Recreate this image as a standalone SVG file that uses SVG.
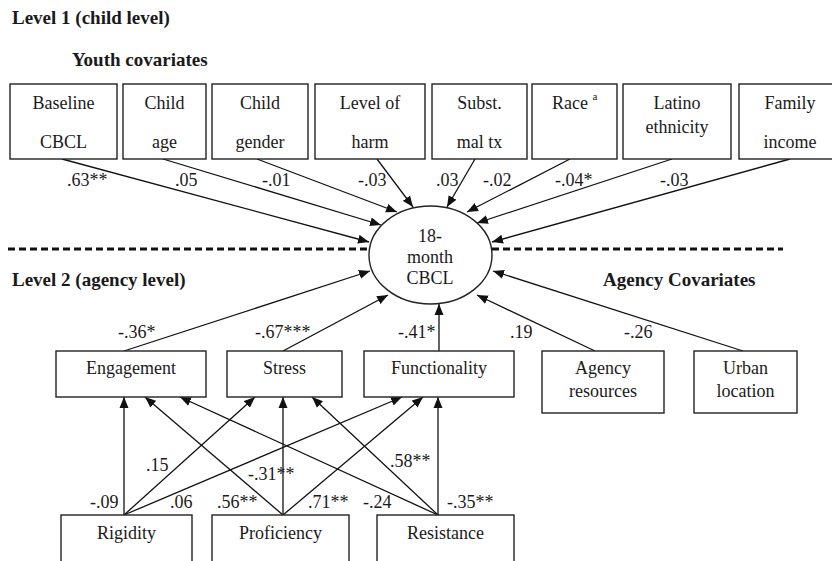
<svg xmlns="http://www.w3.org/2000/svg" width="832" height="561" viewBox="0 0 832 561">
<defs>
<marker id="ah" markerUnits="userSpaceOnUse" markerWidth="12" markerHeight="10" refX="11" refY="5" orient="auto">
<path d="M0,0.5 L11,5 L0,9.5 Z" fill="#111"/>
</marker>
<style>
text{font-family:"Liberation Serif","Times New Roman",serif;fill:#1a1a1a;font-size:18px}
.h{font-weight:bold;font-size:19px}
.c{text-anchor:middle}
.box{fill:#fff;stroke:#222;stroke-width:1.4}
.ln{stroke:#111;stroke-width:1.3;fill:none;marker-end:url(#ah)}
.dash{stroke:#111;stroke-width:3;stroke-dasharray:7 4;fill:none}
.sup{font-size:11px}
</style>
</defs>
<rect width="832" height="561" fill="#fff"/>

<text class="h" x="12" y="24">Level 1 (child level)</text>
<text class="h" x="72" y="66">Youth covariates</text>
<text class="h" x="12" y="286">Level 2 (agency level)</text>
<text class="h" x="603" y="286">Agency Covariates</text>

<line class="dash" x1="8" y1="249" x2="369" y2="249"/>
<line class="dash" x1="492" y1="249" x2="783" y2="249"/>

<g id="connectors">
<line class="ln" x1="62" y1="159" x2="369" y2="242"/>
<line class="ln" x1="163" y1="159" x2="381" y2="225"/>
<line class="ln" x1="257" y1="159" x2="397" y2="212"/>
<line class="ln" x1="377" y1="159" x2="413" y2="207"/>
<line class="ln" x1="475" y1="159" x2="447" y2="207"/>
<line class="ln" x1="570" y1="159" x2="467" y2="212"/>
<line class="ln" x1="672" y1="159" x2="477" y2="223"/>
<line class="ln" x1="790" y1="159" x2="492" y2="242"/>

<line class="ln" x1="124" y1="351" x2="370" y2="271"/>
<line class="ln" x1="283" y1="351" x2="388" y2="295"/>
<line class="ln" x1="439" y1="351" x2="439" y2="304"/>
<line class="ln" x1="595" y1="351" x2="477" y2="295"/>
<line class="ln" x1="743" y1="351" x2="493" y2="271"/>

<line class="ln" x1="124" y1="515" x2="124" y2="397"/>
<line class="ln" x1="124" y1="515" x2="255" y2="397"/>
<line class="ln" x1="124" y1="515" x2="402" y2="397"/>
<line class="ln" x1="283" y1="515" x2="145" y2="397"/>
<line class="ln" x1="283" y1="515" x2="283" y2="397"/>
<line class="ln" x1="283" y1="515" x2="423" y2="397"/>
<line class="ln" x1="438" y1="515" x2="180" y2="397"/>
<line class="ln" x1="438" y1="515" x2="312" y2="397"/>
<line class="ln" x1="438" y1="515" x2="438" y2="397"/>

<text x="67" y="186">.63**</text>
<text x="175" y="186">.05</text>
<text x="262" y="186">-.01</text>
<text x="358" y="186">-.03</text>
<text x="436" y="186">.03</text>
<text x="483" y="186">-.02</text>
<text x="555" y="186">-.04*</text>
<text x="660" y="186">-.03</text>

<text x="118" y="338">-.36*</text>
<text x="255" y="338">-.67***</text>
<text x="398" y="338">-.41*</text>
<text x="510" y="338">.19</text>
<text x="624" y="338">-.26</text>

<text x="90" y="508">-.09</text>
<text x="170" y="508">.06</text>
<text x="217" y="508">.56**</text>
<text x="308" y="508">.71**</text>
<text x="363" y="508">-.24</text>
<text x="447" y="508">-.35**</text>
<text x="146" y="471">.15</text>
<text x="248" y="480">-.31**</text>
<text x="390" y="467">.58**</text>
</g>

<g id="outcome">
<ellipse cx="430.5" cy="255" rx="61.5" ry="49" fill="#fff" stroke="#222" stroke-width="1.4"/>
<text class="c" x="430" y="242">18-</text>
<text class="c" x="430" y="263">month</text>
<text class="c" x="430" y="284">CBCL</text>
</g>

<g id="baseline-cbcl"><rect class="box" x="10" y="84" width="107" height="75"/><text class="c" x="63.5" y="109">Baseline</text><text class="c" x="63.5" y="148">CBCL</text></g>
<g id="child-age"><rect class="box" x="123" y="84" width="83" height="75"/><text class="c" x="164.5" y="109">Child</text><text class="c" x="164.5" y="148">age</text></g>
<g id="child-gender"><rect class="box" x="212" y="84" width="96" height="75"/><text class="c" x="260" y="109">Child</text><text class="c" x="260" y="148">gender</text></g>
<g id="level-of-harm"><rect class="box" x="315" y="84" width="110" height="75"/><text class="c" x="370" y="109">Level of</text><text class="c" x="370" y="148">harm</text></g>
<g id="subst-mal-tx"><rect class="box" x="432" y="84" width="95" height="75"/><text class="c" x="479.5" y="109">Subst.</text><text class="c" x="479.5" y="148">mal tx</text></g>
<g id="race"><rect class="box" x="532" y="84" width="85" height="75"/><text x="552" y="109">Race <tspan class="sup" dy="-9">a</tspan></text></g>
<g id="latino-ethnicity"><rect class="box" x="623" y="84" width="108" height="75"/><text class="c" x="677" y="109">Latino</text><text class="c" x="677" y="133">ethnicity</text></g>
<g id="family-income"><rect class="box" x="739" y="84" width="100" height="75"/><text class="c" x="790" y="109">Family</text><text class="c" x="790" y="148">income</text></g>

<g id="engagement"><rect class="box" x="56" y="351" width="150" height="46"/><text class="c" x="131" y="374">Engagement</text></g>
<g id="stress"><rect class="box" x="227" y="351" width="115" height="46"/><text class="c" x="284.5" y="374">Stress</text></g>
<g id="functionality"><rect class="box" x="364" y="351" width="150" height="46"/><text class="c" x="439" y="374">Functionality</text></g>
<g id="agency-resources"><rect class="box" x="542" y="351" width="122" height="62"/><text class="c" x="603" y="374">Agency</text><text class="c" x="603" y="397">resources</text></g>
<g id="urban-location"><rect class="box" x="694" y="351" width="103" height="62"/><text class="c" x="745.5" y="374">Urban</text><text class="c" x="745.5" y="397">location</text></g>

<g id="rigidity"><rect class="box" x="61" y="515" width="131" height="60"/><text class="c" x="126.5" y="539">Rigidity</text></g>
<g id="proficiency"><rect class="box" x="212" y="515" width="137" height="60"/><text class="c" x="280.5" y="539">Proficiency</text></g>
<g id="resistance"><rect class="box" x="377" y="515" width="137" height="60"/><text class="c" x="445.5" y="539">Resistance</text></g>
</svg>
